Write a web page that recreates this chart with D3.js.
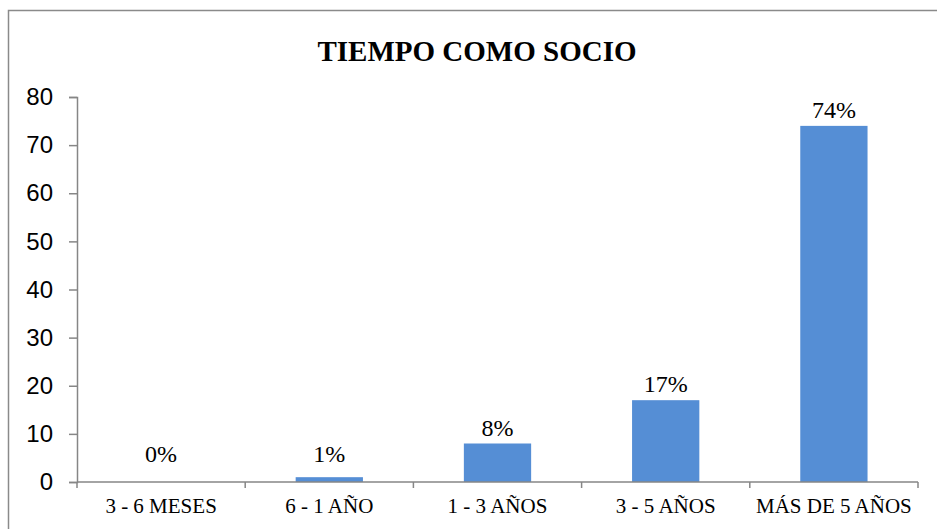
<!DOCTYPE html>
<html>
<head>
<meta charset="utf-8">
<script src="https://cdn.jsdelivr.net/npm/d3@7"></script>
<style>
  body { margin: 0; background: #fff; }
  svg { display: block; }
  .serif { font-family: "Liberation Serif", "DejaVu Serif", serif; }
  .sans { font-family: "Liberation Sans", Arial, sans-serif; }
</style>
</head>
<body>
<svg width="937" height="529"></svg>
<script>
var categories = ["3 - 6 MESES", "6 - 1 AÑO", "1 - 3 AÑOS", "3 - 5 AÑOS", "MÁS DE 5 AÑOS"]
var values = [0, 1, 8, 17, 74]
var valueLabels = ["0%", "1%", "8%", "17%", "74%"]
var yTicks = [0, 10, 20, 30, 40, 50, 60, 70, 80]

var svg = d3.select("svg"),
  width = +svg.attr("width"),
  height = +svg.attr("height");

var margin = {top: 97, bottom: 47, left: 77, right: 19}
var axisColor = "#868686"

// chart area border (right and bottom edges fall outside the picture)
svg.append("rect")
  .attr("x", 8.5)
  .attr("y", 10.5)
  .attr("width", width + 10)
  .attr("height", height + 10)
  .attr("fill", "none")
  .attr("stroke", "#8a8a8a")
  .attr("stroke-width", 1.5)

svg.append("text")
  .attr("class", "serif")
  .attr("x", 477)
  .attr("y", 61)
  .attr("text-anchor", "middle")
  .style("font-weight", "bold")
  .style("font-size", "29px")
  .text("TIEMPO COMO SOCIO")

var x = d3.scaleBand()
  .domain(categories)
  .range([margin.left, width - margin.right])
  .paddingInner(0.6)
  .paddingOuter(0.3)

var y = d3.scaleLinear()
  .domain([0, 80])
  .range([height - margin.bottom, margin.top])

// y axis
var yAxis = d3.axisLeft(y)
  .tickValues(yTicks)
  .tickSize(8)
  .tickPadding(16)

var gy = svg.append("g")
  .attr("transform", "translate(" + margin.left + ",0)")
  .call(yAxis)
gy.attr("font-family", null).attr("font-size", null)
gy.selectAll("path, line").attr("stroke", axisColor).attr("stroke-width", 1.5)
gy.selectAll("text")
  .attr("class", "sans")
  .attr("fill", "#000")
  .style("font-size", "24px")

// bars
svg.append("g").selectAll("rect")
  .data(values)
  .enter()
  .append("rect")
  .attr("x", (d, i) => x(categories[i]))
  .attr("y", d => y(d))
  .attr("width", x.bandwidth())
  .attr("height", d => y(0) - y(d))
  .attr("fill", "#558ed5")

// x axis line and separator ticks
var x0 = x.range()[0]
var boundaries = d3.range(categories.length + 1).map(i => x0 + i * x.step())

svg.append("line")
  .attr("x1", x.range()[0])
  .attr("x2", x.range()[1])
  .attr("y1", y(0))
  .attr("y2", y(0))
  .attr("stroke", axisColor)
  .attr("stroke-width", 1.5)

svg.append("g").selectAll("line")
  .data(boundaries)
  .enter()
  .append("line")
  .attr("x1", d => d)
  .attr("x2", d => d)
  .attr("y1", y(0))
  .attr("y2", y(0) + 6)
  .attr("stroke", axisColor)
  .attr("stroke-width", 1.5)

// category labels
svg.append("g").selectAll("text")
  .data(categories)
  .enter()
  .append("text")
  .attr("class", "serif")
  .attr("x", d => x(d) + x.bandwidth() / 2)
  .attr("y", y(0) + 31)
  .attr("text-anchor", "middle")
  .style("font-size", "21px")
  .text(d => d)

// value labels
svg.append("g").selectAll("text")
  .data(values)
  .enter()
  .append("text")
  .attr("class", "serif")
  .attr("x", (d, i) => x(categories[i]) + x.bandwidth() / 2)
  .attr("y", d => Math.min(y(d), y(2.5)) - 8)
  .attr("text-anchor", "middle")
  .style("font-size", "24px")
  .text((d, i) => valueLabels[i])
</script>
</body>
</html>
